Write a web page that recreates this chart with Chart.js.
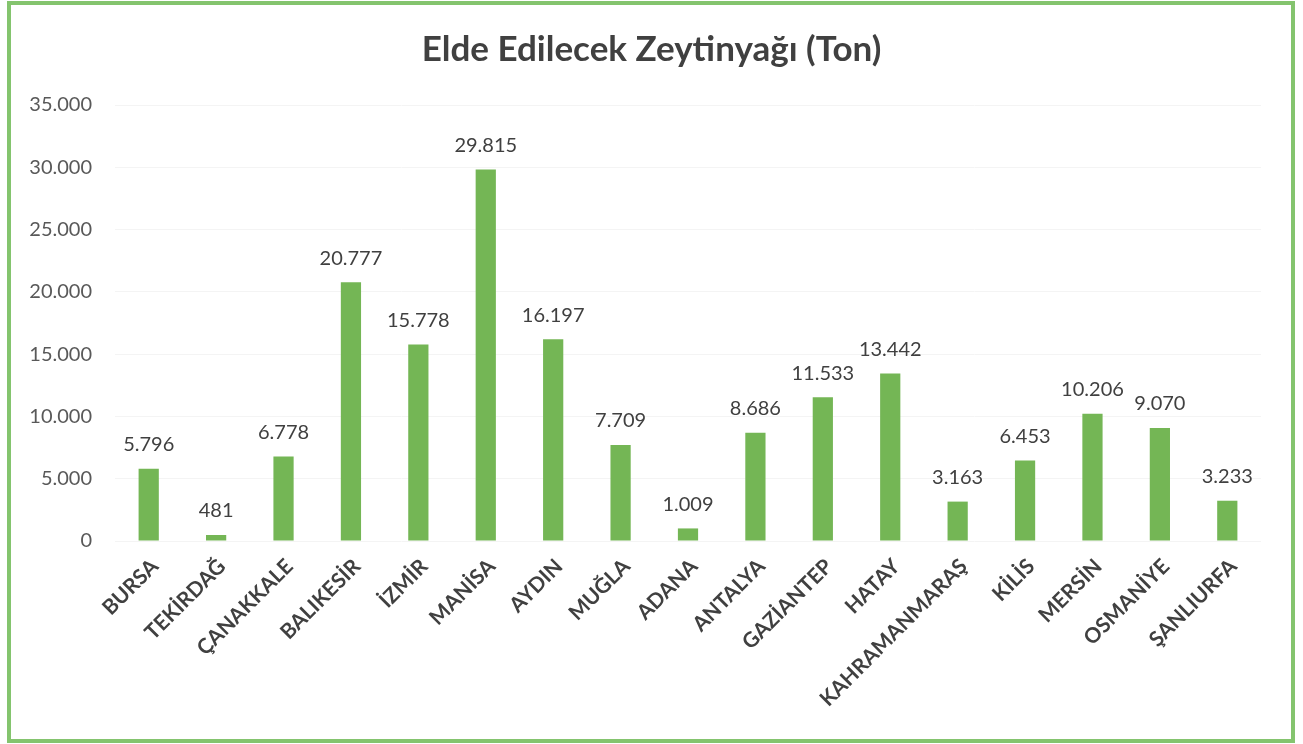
<!DOCTYPE html>
<html>
<head>
<meta charset="utf-8">
<script src="https://cdn.jsdelivr.net/npm/chart.js@4.4.0/dist/chart.umd.min.js"></script>
<style>
  html, body { margin: 0; padding: 0; background: #fff; }
  #wrap { position: relative; width: 1303px; height: 744px; }
  #frame { position: absolute; left: 7px; top: 1px; width: 1280px; height: 734px; border: 4px solid #84c46e; pointer-events: none; }
</style>
</head>
<body>
<div id="wrap">
  <canvas id="barChart" width="1303" height="744"></canvas>
  <div id="frame"></div>
</div>
<script>
var provinces = ["BURSA", "TEKİRDAĞ", "ÇANAKKALE", "BALIKESİR", "İZMİR", "MANİSA", "AYDIN", "MUĞLA", "ADANA",
  "ANTALYA", "GAZİANTEP", "HATAY", "KAHRAMANMARAŞ", "KİLİS", "MERSİN", "OSMANİYE", "ŞANLIURFA"];
var oliveOil = [5796, 481, 6778, 20777, 15778, 29815, 16197, 7709, 1009, 8686, 11533, 13442, 3163, 6453, 10206, 9070, 3233];
var yTicks = [0, 5000, 10000, 15000, 20000, 25000, 30000, 35000];
var chartTitle = 'Elde Edilecek Zeytinyağı (Ton)';

var fontFam = 'Lato, "Open Sans", sans-serif';

function fmt(v) {
  return String(v).replace(/\B(?=(\d{3})+(?!\d))/g, ".");
}

// title centred on the whole canvas + value labels above bars
var extras = {
  id: 'extras',
  afterDraw: function(chart) {
    var ctx = chart.ctx;
    ctx.save();
    ctx.font = 'bold 35px ' + fontFam;
    ctx.fillStyle = '#404040';
    ctx.textAlign = 'center';
    ctx.textBaseline = 'middle';
    ctx.fillText(chartTitle, chart.width / 2, 50);
    ctx.restore();
  },
  afterDatasetsDraw: function(chart) {
    var ctx = chart.ctx;
    var meta = chart.getDatasetMeta(0);
    ctx.save();
    ctx.font = '20px ' + fontFam;
    ctx.fillStyle = '#404040';
    ctx.textAlign = 'center';
    ctx.textBaseline = 'bottom';
    meta.data.forEach(function(bar, i) {
      ctx.fillText(fmt(oliveOil[i]), bar.x, bar.y - 14);
    });
    ctx.restore();
  }
};

var ctx = document.getElementById("barChart").getContext('2d');
var myBarChart = new Chart(ctx, {
  type: 'bar',
  data: {
    labels: provinces,
    datasets: [{
      data: oliveOil,
      backgroundColor: "#74b655",
      barPercentage: 0.3,
      categoryPercentage: 1
    }]
  },
  options: {
    responsive: false,
    animation: false,
    layout: { padding: { left: 0, right: 42, top: 105, bottom: 0 } },
    plugins: {
      legend: { display: false },
      tooltip: { enabled: false },
      title: { display: false }
    },
    scales: {
      y: {
        min: 0,
        max: 35000,
        afterBuildTicks: function(scale) {
          scale.ticks = yTicks.map(function(v) { return { value: v }; });
        },
        afterFit: function(scale) { scale.width = 115; },
        border: { display: false },
        grid: { color: '#f4f4f4', drawTicks: false },
        ticks: {
          padding: 23,
          color: '#595959',
          font: { family: fontFam, size: 20 },
          callback: function(v) { return fmt(v); }
        }
      },
      x: {
        afterFit: function(scale) { scale.height = 203; },
        border: { display: false },
        grid: { display: false },
        ticks: {
          minRotation: 45,
          maxRotation: 45,
          autoSkip: false,
          padding: 5,
          labelOffset: 6,
          color: '#404040',
          font: { family: fontFam, size: 21, weight: 'bold' }
        }
      }
    }
  },
  plugins: [extras]
});
</script>
</body>
</html>
